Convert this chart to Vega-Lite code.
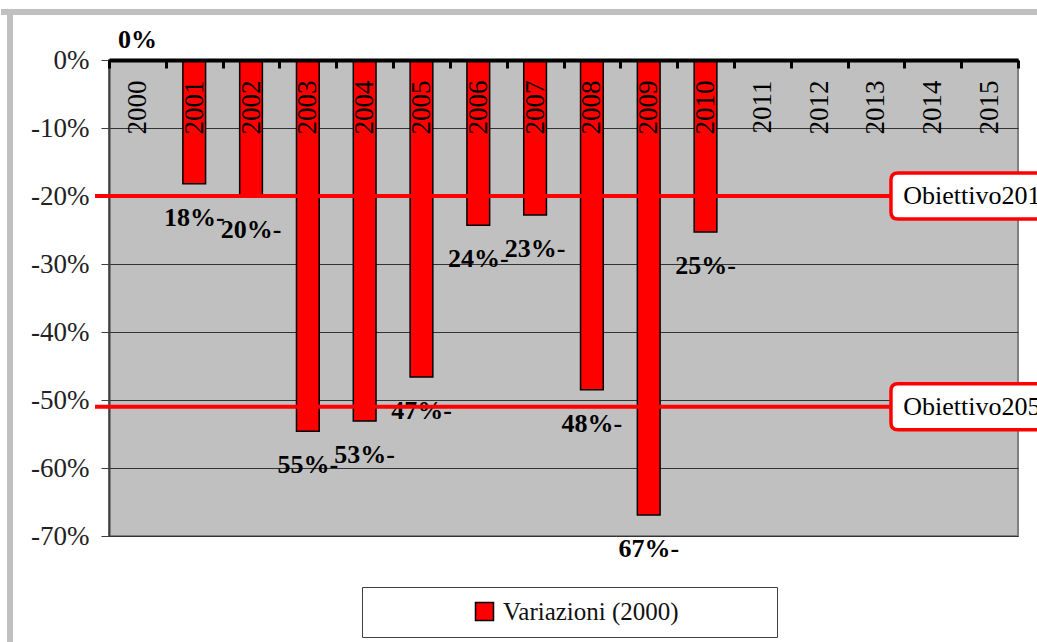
{
  "$schema": "https://vega.github.io/schema/vega-lite/v6.json",
  "width": 909,
  "height": 476,
  "autosize": {"type": "none"},
  "padding": {"left": 109, "top": 60, "right": 19, "bottom": 106},
  "background": "white",
  "config": {
    "view": {"fill": "#c0c0c0", "stroke": "#808080", "strokeWidth": 2},
    "font": "Liberation Serif",
    "axisY": {
      "labelExpr": "datum.value + '%'",
      "labelFontSize": 27, "labelColor": "#222222", "labelFont": "Liberation Serif", "labelPadding": 12,
      "ticks": true, "tickSize": 8, "tickColor": "#404040", "tickWidth": 1,
      "domain": true, "domainColor": "#404040", "domainWidth": 2,
      "grid": true, "gridColor": "#333333", "gridWidth": 1, "gridOpacity": 1, "zindex": 0
    }
  },
  "datasets": {
    "bars": [
      {"year": "2000", "value": 0, "label": "0%"},
      {"year": "2001", "value": -18.2, "label": "18%-"},
      {"year": "2002", "value": -20.0, "label": "20%-"},
      {"year": "2003", "value": -54.6, "label": "55%-"},
      {"year": "2004", "value": -53.1, "label": "53%-"},
      {"year": "2005", "value": -46.6, "label": "47%-"},
      {"year": "2006", "value": -24.3, "label": "24%-"},
      {"year": "2007", "value": -22.8, "label": "23%-"},
      {"year": "2008", "value": -48.5, "label": "48%-"},
      {"year": "2009", "value": -66.9, "label": "67%-"},
      {"year": "2010", "value": -25.3, "label": "25%-"}
    ],
    "targets": [
      {"target": "Obiettivo201", "value": -20},
      {"target": "Obiettivo205", "value": -51}
    ]
  },
  "resolve": {"scale": {"x": "independent"}, "axis": {"x": "independent"}},
  "layer": [
    {
      "data": {"name": "bars"},
      "layer": [
        {
          "mark": {"type": "bar", "width": {"band": 0.4}, "stroke": "black", "strokeWidth": 1.5},
          "encoding": {
            "x": {
              "field": "year", "type": "nominal",
              "scale": {"type": "band", "paddingInner": 0, "paddingOuter": 0,
                "domain": ["2000","2001","2002","2003","2004","2005","2006","2007","2008","2009","2010","2011","2012","2013","2014","2015"]},
              "axis": {
                "orient": "top", "title": null, "zindex": 1,
                "labelAngle": -90, "labelAlign": "right", "labelBaseline": "middle",
                "labelPadding": -12, "labelFontSize": 27, "labelColor": "black", "labelFont": "Liberation Serif",
                "ticks": true, "tickBand": "extent", "tickSize": -8, "tickWidth": 3, "tickColor": "black",
                "domain": true, "domainColor": "black", "domainWidth": 4,
                "grid": false, "labelOverlap": false, "labelBound": false
              }
            },
            "y": {
              "field": "value", "type": "quantitative",
              "scale": {"domain": [-70, 0], "nice": false, "zero": false},
              "axis": {
                "title": null, "values": [-70,-60,-50,-40,-30,-20,-10,0],
                "labelExpr": "datum.value + '%'",
                "labelFontSize": 27, "labelColor": "#222222", "labelFont": "Liberation Serif", "labelPadding": 12,
                "tickSize": 8, "tickColor": "#404040",
                "domainColor": "#404040", "domainWidth": 2,
                "gridColor": "#333333", "gridWidth": 1
              }
            },
            "color": {
              "datum": "Variazioni (2000)",
              "scale": {"range": ["#ff0000"]},
              "legend": {
                "title": "\u00a0", "titleOrient": "right", "titlePadding": 86, "titleFontSize": 10,
                "orient": "none", "legendX": 253, "legendY": 527,
                "direction": "horizontal",
                "padding": 12, "strokeColor": "#404040", "fillColor": "white",
                "symbolType": "square", "symbolSize": 324, "symbolStrokeColor": "black", "symbolStrokeWidth": 1.5,
                "symbolOffset": 98, "labelOffset": 6,
                "labelFont": "Liberation Serif", "labelFontSize": 25, "labelColor": "#111111", "labelLimit": 400
              }
            }
          }
        },
        {
          "transform": [{"filter": "datum.value < 0"}],
          "mark": {"type": "text", "fontWeight": "bold", "fontSize": 26, "dy": 34, "baseline": "middle", "align": "center", "color": "black", "font": "Liberation Serif"},
          "encoding": {
            "x": {"field": "year", "type": "nominal",
              "scale": {"domain": ["2000","2001","2002","2003","2004","2005","2006","2007","2008","2009","2010","2011","2012","2013","2014","2015"]}},
            "y": {"field": "value", "type": "quantitative", "scale": {"domain": [-70, 0], "nice": false, "zero": false}, "axis": {"title": null}},
            "text": {"field": "label"}
          }
        },
        {
          "transform": [{"filter": "datum.value == 0"}],
          "mark": {"type": "text", "fontWeight": "bold", "fontSize": 26, "dy": -20, "baseline": "middle", "align": "center", "color": "black", "font": "Liberation Serif"},
          "encoding": {
            "x": {"field": "year", "type": "nominal",
              "scale": {"domain": ["2000","2001","2002","2003","2004","2005","2006","2007","2008","2009","2010","2011","2012","2013","2014","2015"]}},
            "y": {"field": "value", "type": "quantitative", "scale": {"domain": [-70, 0], "nice": false, "zero": false}, "axis": {"title": null}},
            "text": {"field": "label"}
          }
        }
      ]
    },
    {
      "data": {"name": "targets"},
      "layer": [
        {
          "mark": {"type": "rule", "color": "#ff0000", "strokeWidth": 4, "clip": false},
          "encoding": {
            "x": {"datum": -0.246, "type": "quantitative", "scale": {"domain": [0, 16], "nice": false, "zero": false}, "axis": null},
            "x2": {"datum": 14.5},
            "y": {"field": "value", "type": "quantitative", "scale": {"domain": [-70, 0], "nice": false, "zero": false}, "axis": {"title": null}}
          }
        },
        {
          "mark": {
            "type": "point",
            "shape": "M-0.918,-0.271 L0.918,-0.271 Q1,-0.271 1,-0.189 L1,0.189 Q1,0.271 0.918,0.271 L-0.918,0.271 Q-1,0.271 -1,0.189 L-1,-0.189 Q-1,-0.271 -0.918,-0.271 Z",
            "size": 28900, "filled": true, "fill": "white", "stroke": "#ff0000", "strokeWidth": 3.5, "opacity": 1, "clip": false
          },
          "encoding": {
            "x": {"datum": 15.26, "type": "quantitative", "scale": {"domain": [0, 16], "nice": false, "zero": false}, "axis": null},
            "y": {"field": "value", "type": "quantitative", "scale": {"domain": [-70, 0], "nice": false, "zero": false}, "axis": {"title": null}}
          }
        },
        {
          "mark": {"type": "text", "align": "left", "baseline": "middle", "fontSize": 26, "color": "black", "font": "Liberation Serif", "clip": false},
          "encoding": {
            "x": {"datum": 13.98, "type": "quantitative", "scale": {"domain": [0, 16], "nice": false, "zero": false}, "axis": null},
            "y": {"field": "value", "type": "quantitative", "scale": {"domain": [-70, 0], "nice": false, "zero": false}, "axis": {"title": null}},
            "text": {"field": "target"}
          }
        },
        {
          "mark": {"type": "rule", "color": "#c0c0c0", "strokeWidth": 6, "clip": false},
          "encoding": {
            "x": {"datum": -1.9, "type": "quantitative", "scale": {"domain": [0, 16], "nice": false, "zero": false}, "axis": null},
            "x2": {"datum": 20},
            "y": {"datum": 7.06, "type": "quantitative", "scale": {"domain": [-70, 0], "nice": false, "zero": false}, "axis": {"title": null}}
          }
        },
        {
          "mark": {"type": "rule", "color": "#c0c0c0", "strokeWidth": 6, "clip": false},
          "encoding": {
            "x": {"datum": -1.743, "type": "quantitative", "scale": {"domain": [0, 16], "nice": false, "zero": false}, "axis": null},
            "y": {"datum": 7.5, "type": "quantitative", "scale": {"domain": [-70, 0], "nice": false, "zero": false}, "axis": {"title": null}},
            "y2": {"datum": -120}
          }
        }
      ]
    }
  ]
}
